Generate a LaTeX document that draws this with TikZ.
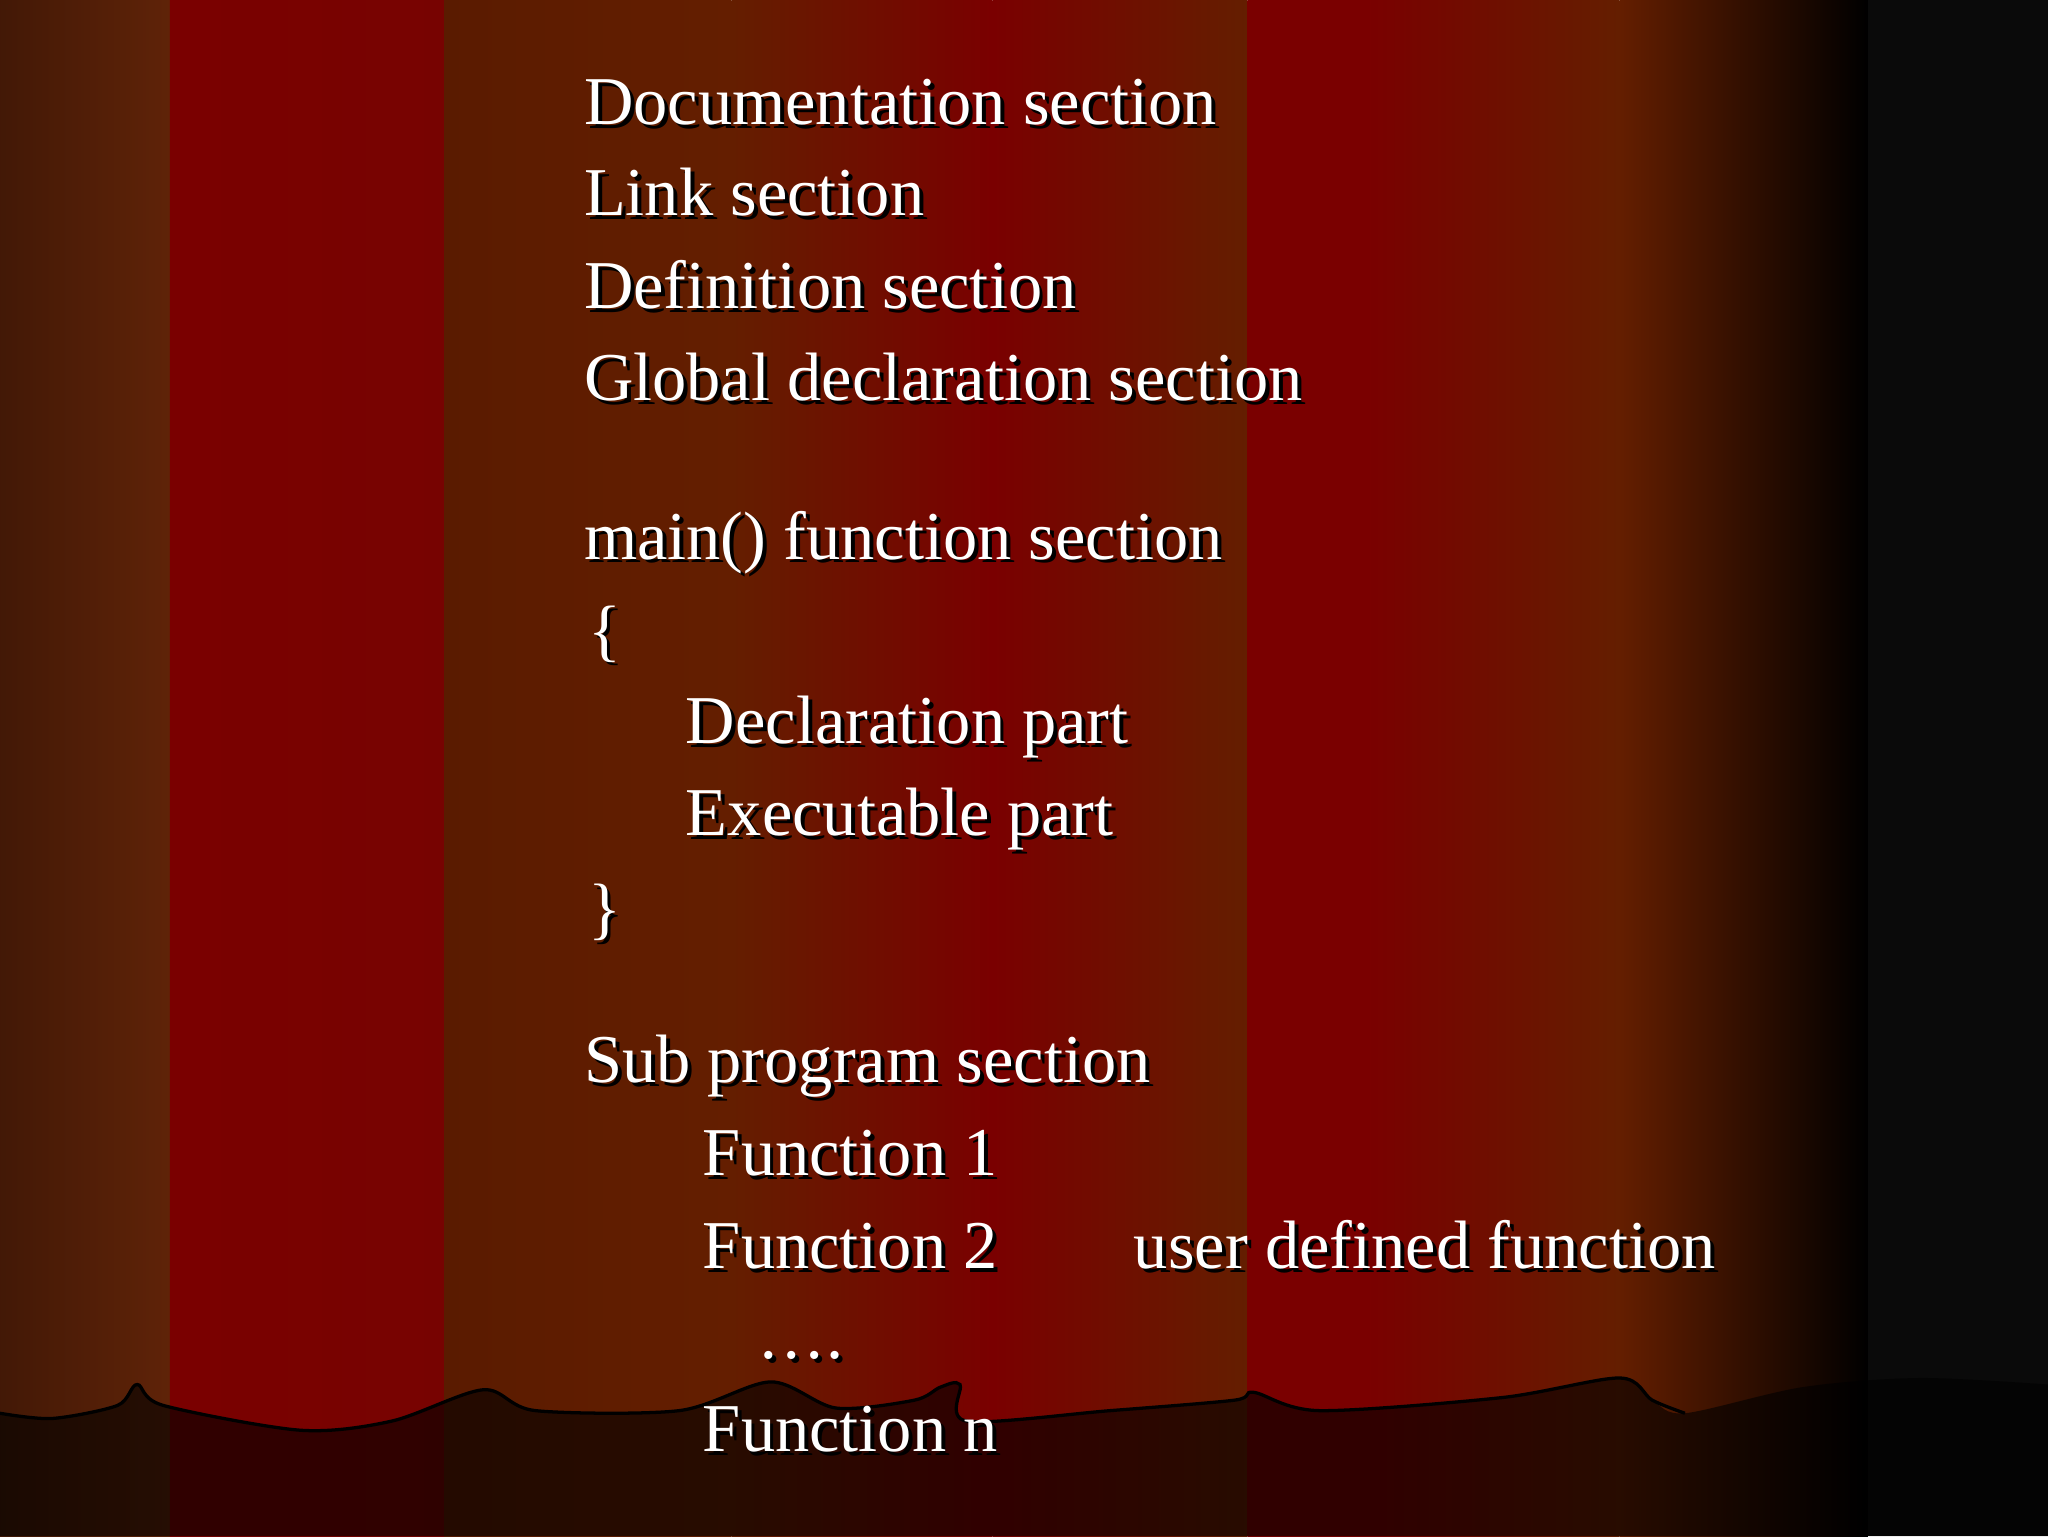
\documentclass[tikz,border=0pt]{standalone}
\usepackage{fontspec}
\setmainfont{Liberation Serif}
\begin{document}
\begin{tikzpicture}[x=1pt,y=-1pt,
  txt/.style={anchor=base west,font=\fontsize{52.4}{56}\selectfont,text=white,inner sep=0pt},
  shd/.style={anchor=base west,font=\fontsize{52.4}{56}\selectfont,text=black,inner sep=0pt}]
\useasboundingbox (0,0) rectangle (1568,1176);
\definecolor{cbr}{RGB}{95,35,8}
\definecolor{crd}{RGB}{122,0,0}
\definecolor{cbn}{RGB}{100,30,0}
\definecolor{cbk}{RGB}{10,10,10}
\shade[left color=cbr!70!black,right color=cbr] (0,0) rectangle (130,1176);
\shade[left color=crd,right color=crd!90!cbr] (130,0) rectangle (340,1176);
\shade[left color=cbn!90!black,right color=cbn] (340,0) rectangle (560,1176);
\shade[left color=cbn,right color=crd] (560,0) rectangle (760,1176);
\shade[left color=crd,right color=cbn] (760,0) rectangle (955,1176);
\shade[left color=crd,right color=crd] (955,0) rectangle (1045,1176);
\shade[left color=crd,right color=cbn] (1045,0) rectangle (1240,1176);
\shade[left color=cbn,right color=black] (1240,0) rectangle (1430,1176);
\fill[cbk] (1430,0) rectangle (1568,1176);
% bottom dark band
\fill[black,opacity=0.6] plot[smooth] coordinates {(0,1082) (40,1086) (90,1076) (105,1060) (125,1076) (230,1095) (300,1088) (370,1064) (410,1080) (520,1080) (590,1058) (640,1078) (700,1072) (720,1062) (735,1060) (740,1088) (850,1080) (945,1072) (960,1066) (1010,1080) (1150,1070) (1240,1055) (1265,1072) (1290,1082) (1380,1062) (1470,1055) (1568,1060)} -- (1568,1176) -- (0,1176) -- cycle;
\draw[black,line width=2.5pt] plot[smooth] coordinates {(0,1082) (40,1086) (90,1076) (105,1060) (125,1076) (230,1095) (300,1088) (370,1064) (410,1080) (520,1080) (590,1058) (640,1078) (700,1072) (720,1062) (735,1060) (740,1088) (850,1080) (945,1072) (960,1066) (1010,1080) (1150,1070) (1240,1055) (1265,1072) (1290,1082)};
% text
\foreach \n/\x/\y/\t in {a/447/95/Documentation section, b/447/165/Link section, c/447/236/Definition section, d/447/307/Global declaration section, e/447/428/main() function section, f/450/500/\{, g/525/569/Declaration part, h/525/640/Executable part, i/450/713/\}, j/447/829/Sub program section, k/538/900/Function 1, l/538/971/Function 2, m/868/971/user defined function, o/580/1040/\dots., p/538/1111/Function n}{
  \node[shd] (s\n) at (\x+3,\y+3) {\t};
  \node[txt] (\n) at (\x,\y) {\t};
}
\end{tikzpicture}
\end{document}
